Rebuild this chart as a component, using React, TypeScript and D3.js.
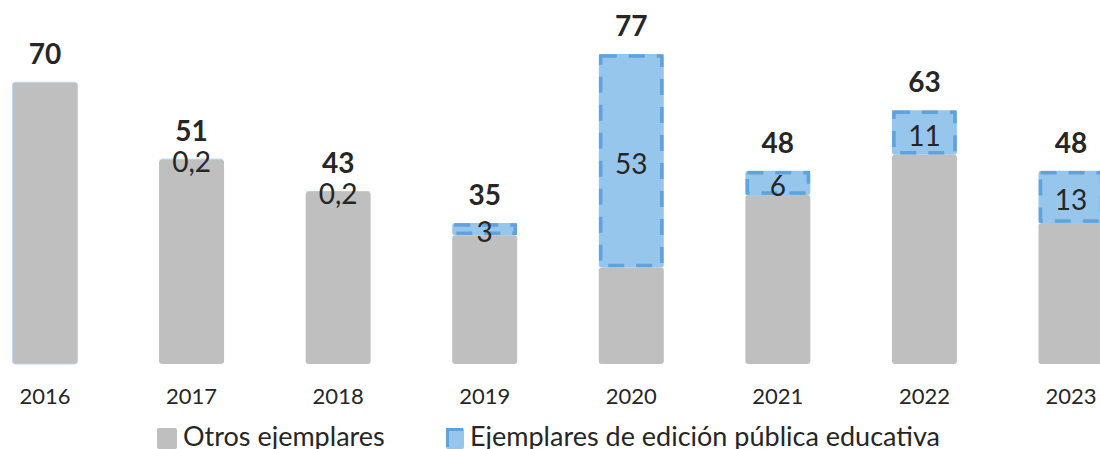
import React from "react";
import * as d3 from "d3";

const years = ["2016", "2017", "2018", "2019", "2020", "2021", "2022", "2023"];
const totals = [70, 51, 43, 35, 77, 48, 63, 48];
const educativa = [0, 0.2, 0.2, 3, 53, 6, 11, 13];
const educativaLabels = ["", "0,2", "0,2", "3", "53", "6", "11", "13"];
const seriesNames = ["Otros ejemplares", "Ejemplares de edición pública educativa"];

const W = 1100;
const H = 449;
const GRAY = "#BFBFBF";
const BLUE = "#96C6EC";
const BLUE_DASH = "#5FA2DC";
const FONT = "Lato, 'Open Sans', sans-serif";

export default function App() {
  const x = d3.scalePoint<string>().domain(years).range([45, 1071]);
  const y = d3.scaleLinear().domain([0, 77]).range([364, 54]);
  const bw = 65;

  return (
    <svg
      width={W}
      height={H}
      style={{ position: "absolute", left: 0, top: 0, background: "#fff" }}
      fontFamily={FONT}
    >
      {years.map((yr, i) => {
        const cx = x(yr)!;
        const other = totals[i] - educativa[i];
        const yTop = y(totals[i]);
        const yMid = y(other);
        const y0 = y(0);
        return (
          <g key={yr}>
            <rect
              x={cx - bw / 2}
              y={yMid}
              width={bw}
              height={y0 - yMid}
              rx={3}
              fill={GRAY}
              stroke={educativa[i] === 0 ? "#BDD7EE" : "none"}
              strokeWidth={1}
            />
            {educativa[i] > 0 && (
              <>
                <rect
                  x={cx - bw / 2}
                  y={yTop}
                  width={bw}
                  height={yMid - yTop}
                  rx={3}
                  fill={BLUE}
                />
                <rect
                  x={cx - bw / 2 + 2}
                  y={yTop + 2}
                  width={bw - 4}
                  height={Math.max(0, yMid - yTop - 4)}
                  fill="none"
                  stroke={BLUE_DASH}
                  strokeWidth={3.5}
                  strokeDasharray="16,12"
                />
                <text
                  x={cx}
                  y={(yTop + yMid) / 2 + 13}
                  textAnchor="middle"
                  fontSize={28}
                  fill="#262626"
                >
                  {educativaLabels[i]}
                </text>
              </>
            )}
            <text
              x={cx}
              y={yTop - 18}
              textAnchor="middle"
              fontSize={28}
              fontWeight="bold"
              fill="#262626"
            >
              {totals[i]}
            </text>
            <text
              x={cx}
              y={404}
              textAnchor="middle"
              fontSize={22}
              fill="#262626"
            >
              {yr}
            </text>
          </g>
        );
      })}
      <g>
        <rect x={157} y={428} width={20} height={21} rx={2} fill={GRAY} />
        <text x={183} y={446} fontSize={27} fill="#262626">
          {seriesNames[0]}
        </text>
        <rect x={446} y={428} width={18} height={21} rx={2} fill={BLUE} />
        <path d="M447.5,447 V429.5 H463" fill="none" stroke={BLUE_DASH} strokeWidth={3} />
        <text x={470} y={446} fontSize={27} fill="#262626">
          {seriesNames[1]}
        </text>
      </g>
    </svg>
  );
}
